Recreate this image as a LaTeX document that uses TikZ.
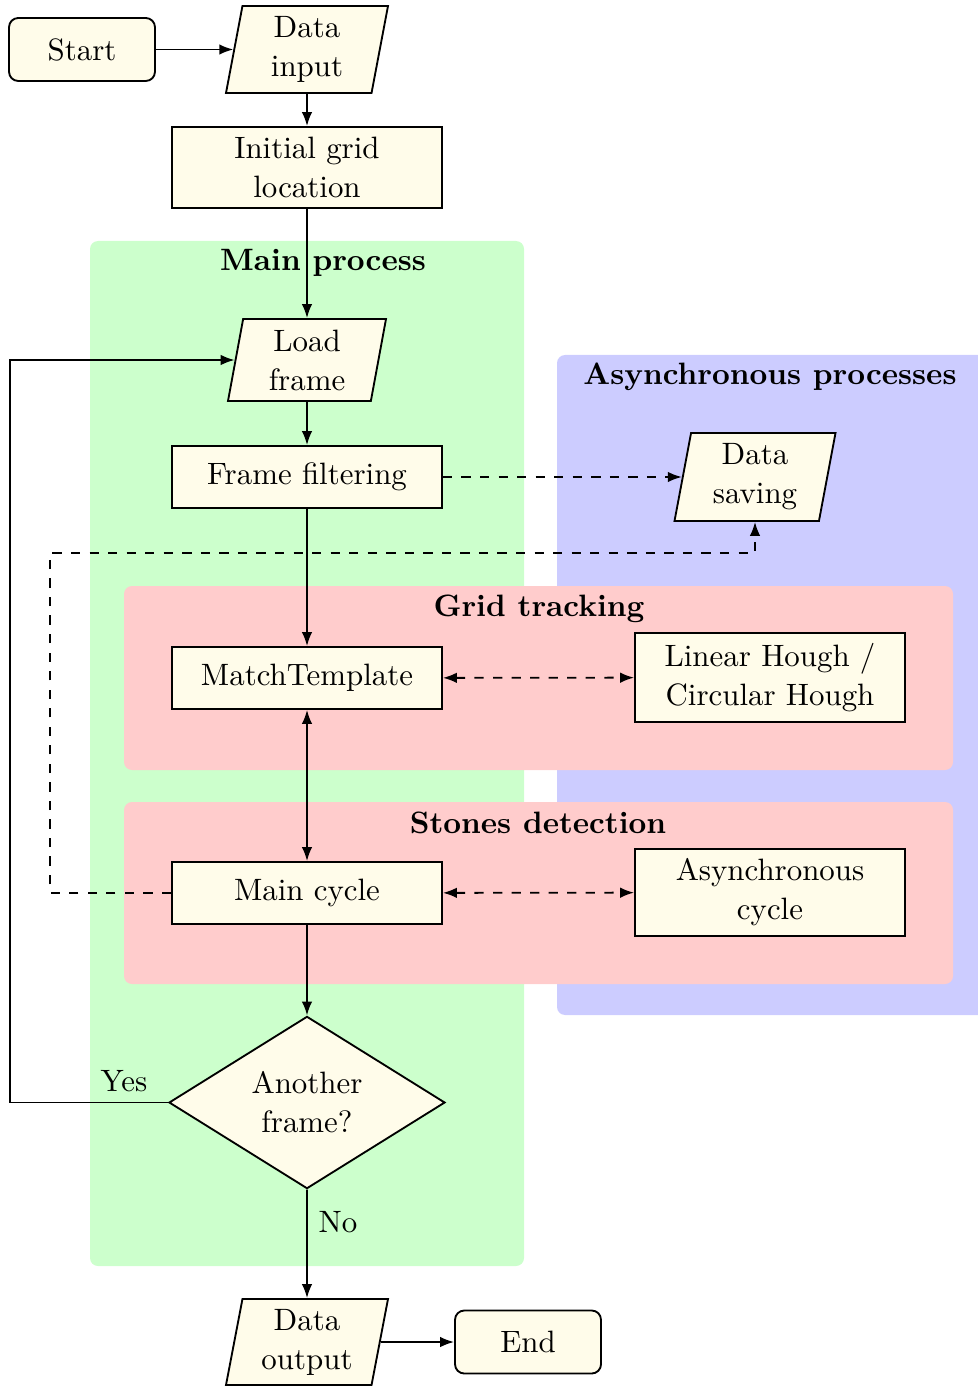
\documentclass[tikz,border=0pt]{standalone}
\usetikzlibrary{shapes.geometric,arrows.meta}
\newlength\upx
\setlength\upx{0.3236pt}
\definecolor{boxfill}{RGB}{255,252,234}
\definecolor{mainbg}{RGB}{204,255,204}
\definecolor{asyncbg}{RGB}{204,204,255}
\definecolor{subbg}{RGB}{255,204,204}
\begin{document}
\begin{tikzpicture}[x=0.3236pt,y=-0.3236pt,
  base/.style={draw, semithick, fill=boxfill, align=center, inner sep=0pt,
    font=\fontsize{10}{12.6}\selectfont},
  procbox/.style={base, rectangle, minimum width=270\upx},
  termbox/.style={base, rectangle, rounded corners=3pt, minimum width=146\upx, minimum height=63\upx},
  iobox/.style={base, trapezium, trapezium left angle=76, trapezium right angle=104,
    trapezium stretches body, minimum width=161\upx},
  decbox/.style={base, diamond, minimum width=276\upx, minimum height=171\upx},
  region/.style={rounded corners=2.6pt},
  regiontitle/.style={font=\bfseries, inner sep=0pt},
  flow/.style={semithick, -{Latex[length=4.5pt,width=3.4pt]}},
  twoway/.style={semithick, {Latex[length=4.5pt,width=3.4pt]}-{Latex[length=4.5pt,width=3.4pt]}},
  lbl/.style={inner sep=0pt}]
\useasboundingbox (0,0) rectangle (977,1386);

% background regions
\fill[mainbg, region] (90,241) rectangle (524,1266);
\fill[asyncbg, region] (557,355) rectangle (995,1015);
\fill[subbg, region] (124,586) rectangle (953,770);
\fill[subbg, region] (124,802) rectangle (953,984);
\node[regiontitle] (tmain) at (323,263) {Main process};
\node[regiontitle] (tasync) at (770,377) {Asynchronous processes};
\node[regiontitle] (tgrid) at (539,609) {Grid tracking};
\node[regiontitle] (tstones) at (538,823) {Stones detection};

% flowchart nodes
\node[termbox] (start) at (82,49.5) {Start};
\node[iobox, minimum height=87\upx, minimum width=162\upx] (din) at (307,49.5) {Data\\input};
\node[procbox, minimum height=81\upx] (init) at (307,167.5) {Initial grid\\location};
\node[iobox, minimum width=158\upx, minimum height=82\upx] (load) at (307,360) {Load\\frame};
\node[procbox, minimum height=62\upx] (filt) at (307,477) {Frame filtering};
\node[iobox, minimum height=88\upx] (save) at (755,477) {Data\\saving};
\node[procbox, minimum height=62\upx] (match) at (307,678) {MatchTemplate};
\node[procbox, minimum height=89\upx] (hough) at (770,677.5) {Linear Hough /\\Circular Hough};
\node[procbox, minimum height=62\upx] (main) at (307,893) {Main cycle};
\node[procbox, minimum height=87\upx] (async) at (770,892.5) {Asynchronous\\cycle};
\node[decbox] (more) at (307,1102.5) {Another\\frame?};
\node[iobox, minimum height=86\upx, minimum width=162\upx] (dout) at (307,1342) {Data\\output};
\node[termbox] (end) at (528,1342) {End};

% helper corners for routed connectors
\coordinate (saveturn) at (50,553);
\coordinate (loopturn) at (10,1102.5);

% connectors
\draw[flow] (start) -- (din.left side);
\draw[flow] (din) -- (init);
\draw[flow] (init) -- (load);
\draw[flow] (load) -- (filt);
\draw[flow] (filt) -- (match);
\draw[flow, dashed] (filt) -- (save.left side);
\draw[twoway] (match) -- (main);
\draw[twoway, dashed] (match) -- (hough);
\draw[twoway, dashed] (main) -- (async);
\draw[flow, dashed] (main.west) -| (saveturn) -| (save.south);
\draw[flow] (main) -- (more);
\draw[flow] (more.west) -- (loopturn) |- (load.left side);
\draw[flow] (more) -- (dout);
\draw[flow] (dout.right side) -- (end);
\node[lbl] (yes) at (124,1081) {Yes};
\node[lbl] (no) at (338,1222) {No};
\end{tikzpicture}
\end{document}
